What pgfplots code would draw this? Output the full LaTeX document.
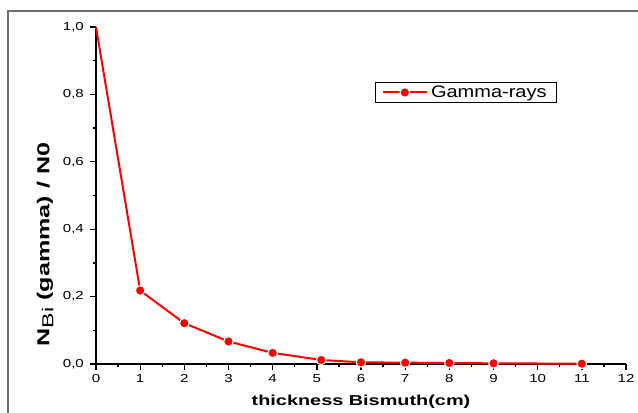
\documentclass[border=0pt]{standalone}
\usepackage{pgfplots}
\pgfplotsset{compat=1.18}
\usepackage{fontspec}
\setmainfont{Liberation Sans}
\definecolor{frame}{HTML}{6E6E6E}
\pgfplotsset{
  origin legend/.style={
    legend image code/.code={
      \draw[##1, mark repeat=2, mark phase=2]
        plot coordinates {(0pt,0pt) (16.5pt,0pt) (33pt,0pt)};
    },
  },
}

\begin{document}
\begin{tikzpicture}
\draw[frame, line width=1.2pt] (6pt,-10pt) -- (6pt,300.75pt) -- (490pt,300.75pt);
\begin{axis}[
  at={(72pt,36pt)},
  anchor=south west,
  scale only axis,
  width=397.5pt,
  height=252.75pt,
  xmin=0, xmax=12,
  ymin=0, ymax=1,
  axis lines=left,
  axis line style={-, line width=1.1pt, black},
  clip=false,
  xtick distance=1,
  ytick distance=0.2,
  minor x tick num=1,
  minor y tick num=1,
  tick align=outside,
  major tick length=4.5pt,
  minor tick length=2.25pt,
  every tick/.style={black, line width=1pt},
  /pgf/number format/assume math mode=true,
  tick label style={font=\fontsize{8.7}{10}\selectfont, xscale=1.3},
  yticklabel style={/pgf/number format/.cd, fixed, fixed zerofill, precision=1, use comma},
  xlabel={\textbf{thickness Bismuth(cm)}},
  xlabel style={font=\fontsize{10.8}{12}\selectfont, xscale=1.38,
    at={(axis description cs:0.50,-0.113)}, anchor=center},
  ylabel={\scalebox{1.45}[1]{\textbf{N}\raisebox{-0.45ex}{\fontsize{12}{13}\selectfont Bi}\textbf{ (gamma) / N0}}},
  ylabel style={font=\fontsize{13}{15}\selectfont,
    at={(axis description cs:-0.096,0.355)}, anchor=center},
  legend style={
    at={(axis description cs:0.526,0.837)},
    anchor=north west,
    draw=black, line width=0.6pt,
    font=\fontsize{12.5}{14}\selectfont,
    inner xsep=5pt, inner ysep=0.5pt,
    nodes={xscale=1.2},
  },
  legend cell align=left,
]
\addplot[red, line width=1.5pt, forget plot,
  mark=*, mark size=3.6pt, mark indices={2,...,11},
  mark options={fill=red, draw=white, line width=0.8pt}] coordinates {
  (0, 1.000)
  (1, 0.218)
  (2, 0.121)
  (3, 0.067)
  (4, 0.033)
  (5.1, 0.012)
  (6, 0.005)
  (7, 0.004)
  (8, 0.003)
  (9, 0.002)
  (11, 0.001)
};
\addlegendimage{red, line width=1.5pt, mark=*, mark size=3.6pt,
  mark options={fill=red, draw=white, line width=0.8pt}, origin legend}
\addlegendentry{Gamma-rays}
\end{axis}
\pgfresetboundingbox
\path (0,0) rectangle (478.5pt,309pt);
\end{tikzpicture}
\end{document}
